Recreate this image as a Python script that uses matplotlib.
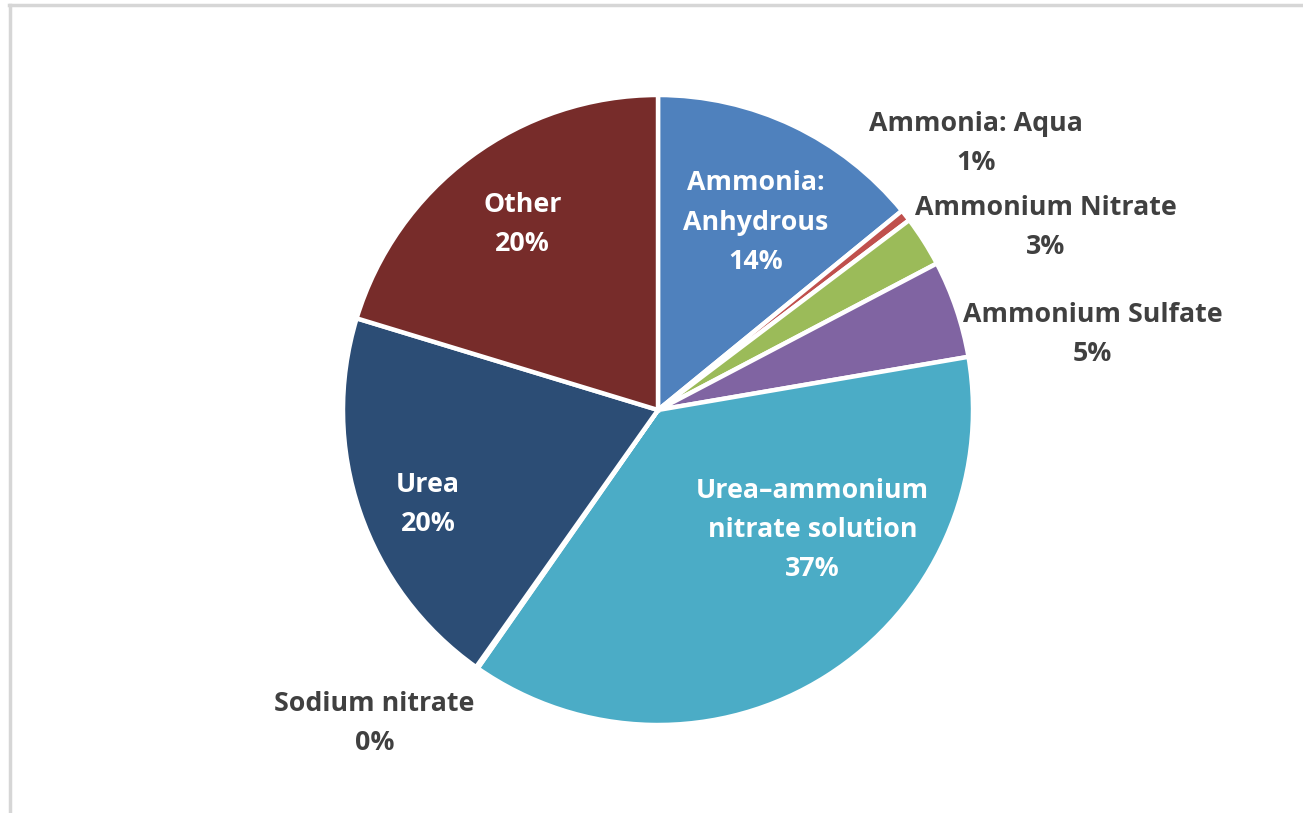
import matplotlib
matplotlib.use("Agg")
import matplotlib.pyplot as plt
from matplotlib.lines import Line2D

# Nitrogen fertilizer share by product
categories = ["Ammonia:\nAnhydrous", "Ammonia: Aqua", "Ammonium Nitrate", "Ammonium Sulfate",
              "Urea\u2013ammonium\nnitrate solution", "Sodium nitrate", "Urea", "Other"]
shares = [14.1, 0.6, 2.6, 5.0, 37.4, 0.1, 19.9, 20.3]
colors = ["#4F81BD", "#C0504D", "#9BBB59", "#8064A2", "#4BACC6", "#F79646", "#2C4D75", "#772C2A"]

# label placement in pie units (radius = 1), and whether the label sits inside its slice
label_xy = [(0.31, 0.595), (1.01, 0.845), (1.23, 0.58), (1.38, 0.24),
            (0.49, -0.38), (-0.90, -0.995), (-0.73, -0.30), (-0.43, 0.59)]
inside = [True, False, False, False, True, False, True, True]

plt.rcParams['font.family'] = ['Open Sans', 'DejaVu Sans']

W, H = 1303, 813
fig = plt.figure(figsize=(W / 100, H / 100), dpi=100)
cx, cy, R = 658, 410, 315
ax = fig.add_axes([(cx - R) / W, (H - cy - R) / H, 2 * R / W, 2 * R / H])

ax.pie(shares, colors=colors, startangle=90, counterclock=False, radius=1,
       wedgeprops=dict(edgecolor="white", linewidth=3.2))
ax.set_xlim(-1, 1)
ax.set_ylim(-1, 1)
ax.set_aspect("equal")
ax.axis("off")

for name, val, (x, y), ins in zip(categories, shares, label_xy, inside):
    ax.text(x, y, f"{name}\n{val:.0f}%", ha="center", va="center",
            fontsize=19.3, fontweight="bold", linespacing=1.66,
            color="white" if ins else "#404040")

# light frame along the top and left edges
fig.add_artist(Line2D([9 / W, 1], [1 - 5 / H, 1 - 5 / H], transform=fig.transFigure,
                      color="#d6d6d6", linewidth=2.5))
fig.add_artist(Line2D([10 / W, 10 / W], [0, 1 - 5 / H], transform=fig.transFigure,
                      color="#d6d6d6", linewidth=2.5))

fig.savefig("out.png", dpi=100, facecolor="white")
